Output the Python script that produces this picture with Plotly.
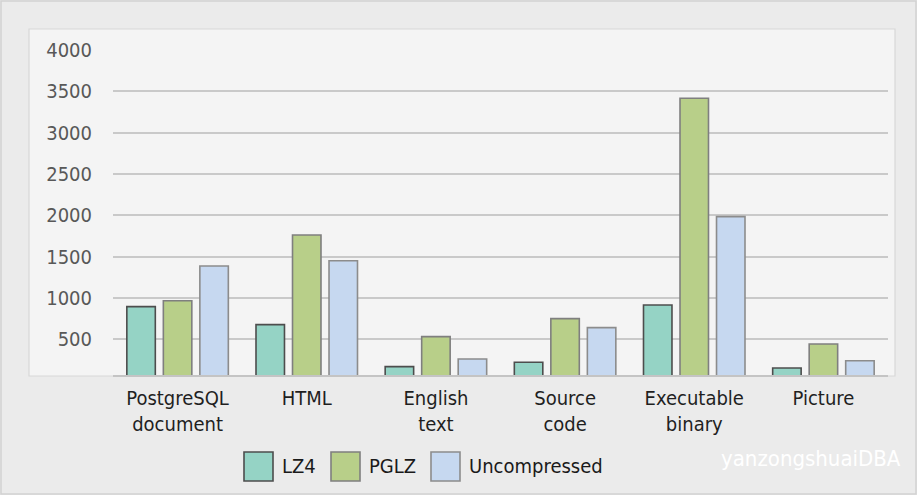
import plotly.graph_objects as go

categories = ["PostgreSQL<br>document", "HTML", "English<br>text", "Source<br>code", "Executable<br>binary", "Picture"]
series_names = ["LZ4", "PGLZ", "Uncompressed"]
lz4 = [895, 677, 169, 222, 915, 153]
pglz = [967, 1762, 532, 750, 3416, 443]
uncompressed = [1387, 1451, 262, 641, 1984, 241]
y_ticks = [500, 1000, 1500, 2000, 2500, 3000, 3500, 4000]

W, H = 917, 495
FONT = "DejaVu Sans Condensed, Liberation Sans Narrow, Roboto, sans-serif"
fills = ["#95d3c5", "#b8cf89", "#c6d8f0"]
edges = ["#4d4d4d", "#7f7f7f", "#8c8c8c"]


def px(x):
    return x / W


def py(y):
    return 1 - y / H


fig = go.Figure()
for name, vals, fc, ec in zip(series_names, [lz4, pglz, uncompressed], fills, edges):
    fig.add_trace(go.Bar(
        x=categories, y=vals, name=name, showlegend=False,
        marker=dict(color=fc, line=dict(color=ec, width=1.6)),
    ))

shapes = [
    dict(type="rect", xref="paper", yref="paper", x0=px(1), x1=px(916), y0=py(494), y1=py(1),
         fillcolor="rgba(0,0,0,0)", line=dict(color="#d2d2d2", width=1.5), layer="below"),
    dict(type="rect", xref="paper", yref="paper", x0=px(29), x1=px(895), y0=py(376), y1=py(29),
         fillcolor="#f4f4f4", line=dict(color="#d8d8d8", width=1.2), layer="below"),
]
annotations = []
# manual legend
for (bx, tx), txt, fc, ec in zip([(244, 280), (331, 367), (431, 467)], series_names, fills, edges):
    shapes.append(dict(type="rect", xref="paper", yref="paper", x0=px(bx), x1=px(bx + 29),
                       y0=py(481), y1=py(452), fillcolor=fc, line=dict(color=ec, width=1.6)))
    annotations.append(dict(xref="paper", yref="paper", x=px(tx), y=py(466), text=txt,
                            showarrow=False, xanchor="left", yanchor="middle",
                            font=dict(family=FONT, size=20, color="#1a1a1a")))
annotations.append(dict(xref="paper", yref="paper", x=px(903), y=py(458), text="yanzongshuaiDBA",
                        showarrow=False, xanchor="right", yanchor="middle",
                        font=dict(family=FONT, size=22, color="#ffffff")))

fig.update_layout(
    width=W, height=H,
    margin=dict(l=0, r=0, t=0, b=0, autoexpand=False),
    paper_bgcolor="#ebebeb",
    plot_bgcolor="rgba(0,0,0,0)",
    barmode="group", bargap=0.152, bargroupgap=0.22,
    shapes=shapes, annotations=annotations,
    showlegend=False,
    xaxis=dict(domain=[px(113), px(888)], showgrid=False, showline=True, linecolor="#c4c4c4",
               linewidth=2, ticks="", automargin=False,
               tickfont=dict(family=FONT, size=20, color="#1f1f1f"),
               ticklabelstandoff=4),
    yaxis=dict(domain=[py(375), py(50)], range=[68, 4000], tickvals=y_ticks, automargin=False,
               showgrid=True, gridcolor="#c9c9c9", gridwidth=2, zeroline=False, showline=False,
               ticks="", tickfont=dict(family=FONT, size=20, color="#585858"),
               ticklabelstandoff=20),
)

fig.write_html("out.html", config={"displayModeBar": False},
               post_script="document.body.style.margin='0';")
